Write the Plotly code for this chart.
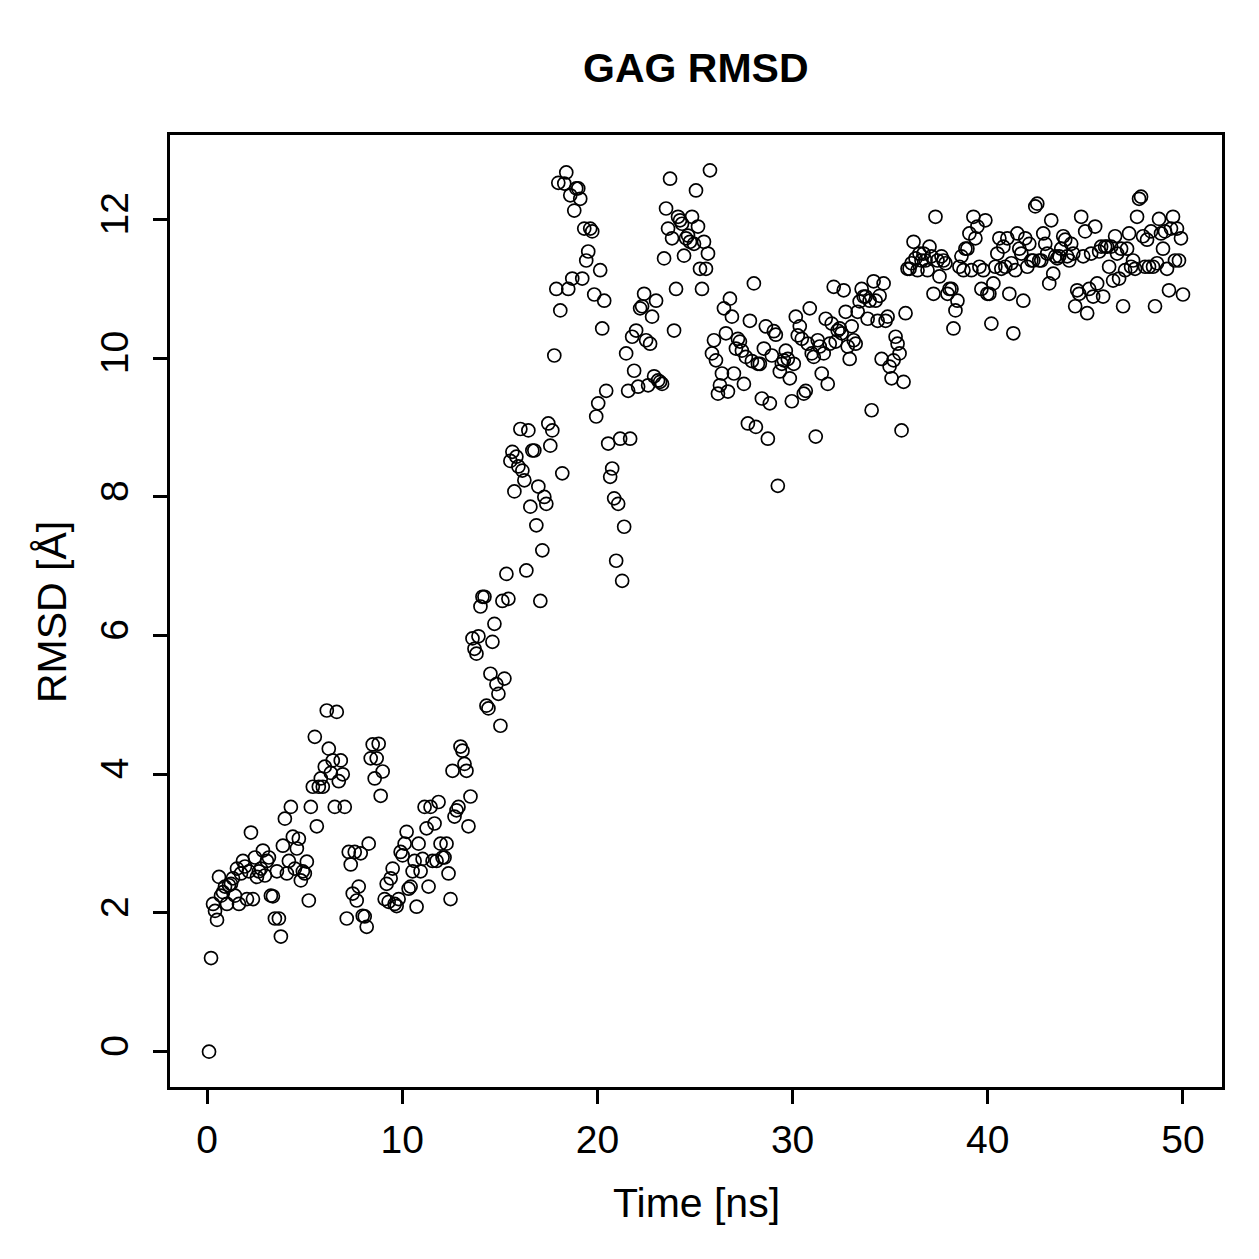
import numpy as np
import plotly.graph_objects as go

# RMSD values (Å), in time order
rmsd_0_10 = [0, 1.35, 2.13, 2.03, 1.9, 2.52, 2.25, 2.3, 2.38, 2.13, 2.4, 2.42, 2.5, 2.25, 2.64, 2.13, 2.57, 2.75, 2.67, 2.2,
             2.6, 3.16, 2.2, 2.8, 2.52, 2.6, 2.64, 2.9, 2.54, 2.75, 2.8, 2.25, 2.24, 1.92, 2.6, 1.92, 1.66, 2.97, 3.36, 2.57,
             2.75, 3.53, 3.1, 2.64, 2.93, 3.07, 2.47, 2.6, 2.57, 2.74, 2.18, 3.53, 3.82, 4.54, 3.25, 3.82, 3.94, 3.82, 4.11, 4.92,
             4.37, 4.02, 4.2, 3.53, 4.9, 3.9, 4.2, 4.0, 3.53, 1.92, 2.88, 2.7, 2.28, 2.88, 2.18, 2.38, 2.86, 1.96, 1.95, 1.8,
             3.0, 4.23, 4.43, 3.94, 4.23, 4.44, 3.69, 4.04, 2.2, 2.42, 2.16, 2.5, 2.64, 2.13]
rmsd_10_15 = [2.1, 2.2, 2.88, 2.83, 3.0, 3.17, 2.35, 2.38, 2.6, 2.75, 2.09, 3.0, 2.6, 2.78, 3.53, 3.22, 2.38, 3.53, 2.75, 3.29,
              2.75, 3.6, 3.0, 2.8, 2.8, 3.0, 2.57, 2.2, 4.05, 3.39, 3.48, 3.53, 4.4, 4.34, 4.15, 4.05, 3.25, 3.68, 5.96, 5.81,
              5.74, 5.99, 6.42, 6.56, 6.56, 4.99, 4.95, 5.45, 5.91, 6.17]
rmsd_15_20 = [5.3, 5.16, 4.7, 6.5, 5.38, 6.89, 6.53, 8.52, 8.65, 8.08, 8.58, 8.44, 8.98, 8.38, 8.24, 6.94, 8.96, 7.86, 8.67, 8.67,
              7.59, 8.15, 6.5, 7.23, 8.0, 7.9, 9.06, 8.74, 8.96, 10.04, 11.0, 12.53, 10.69, 8.34, 12.52, 12.68, 11.0, 12.35, 11.15, 12.13,
              12.45, 12.45, 12.3, 11.15, 11.87, 11.41, 11.54, 11.87, 11.83, 10.92, 9.16, 9.35]
rmsd_20_26 = [11.27, 10.43, 10.83, 9.53, 8.77, 8.29, 8.41, 7.98, 7.08, 7.9, 8.84, 6.79, 7.57, 10.07, 9.53, 8.84, 10.31, 9.82, 10.4, 9.59,
              10.72, 10.75, 10.93, 10.26, 9.61, 10.21, 10.6, 9.74, 10.83, 9.68, 9.66, 9.63, 11.44, 12.16, 11.87, 12.59, 11.73, 10.4, 11.0, 12.04,
              11.99, 11.94, 11.48, 11.73, 11.77, 11.68, 12.04, 11.65, 12.42, 11.9, 11.29, 11.0, 11.68, 11.29, 11.51, 12.71]
rmsd_26_36 = [10.07, 10.26, 9.97, 9.49, 9.61, 9.78, 10.72, 10.36, 9.52, 10.86, 10.6, 9.78, 10.14, 10.28, 10.24, 10.11, 9.63, 10.02, 9.06, 10.54,
              9.96, 11.08, 9.01, 9.92, 9.92, 9.42, 10.14, 10.46, 8.84, 9.35, 10.04, 10.39, 10.34, 8.16, 9.81, 9.92, 9.97, 10.11, 9.99, 9.71,
              9.38, 9.92, 10.6, 10.33, 10.46, 10.28, 9.49, 9.53, 10.21, 10.72, 10.07, 10.02, 8.87, 10.26, 10.17, 9.78, 10.07, 10.57, 9.63, 10.21,
              10.5, 11.03, 10.24, 10.4, 10.43, 10.36, 10.98, 10.67, 10.17, 9.99, 10.46, 10.26, 10.21, 10.67, 10.82, 11.0, 10.89, 10.89, 10.57, 10.83,
              9.25, 11.11, 10.83, 10.54, 10.9, 9.99, 11.08, 10.54, 10.6, 9.88, 9.71, 9.97, 10.31, 10.21, 10.07, 8.96, 9.66, 10.65]
rmsd_36_50 = [11.29, 11.29, 11.37, 11.68, 11.44, 11.27, 11.51, 11.41, 11.51, 11.41, 11.27, 11.61, 11.47, 10.93, 12.04, 11.41, 11.18, 11.47, 11.41, 11.37,
              10.93, 11.0, 11.0, 10.43, 10.69, 10.83, 11.32, 11.47, 11.27, 11.58, 11.58, 11.8, 11.27, 12.04, 11.73, 11.9, 11.32, 11.0, 11.27, 11.99,
              10.93, 10.93, 10.5, 11.08, 11.32, 11.51, 11.73, 11.29, 11.61, 11.32, 11.73, 10.93, 11.37, 10.36, 11.27, 11.8, 11.58, 11.51, 10.83, 11.73,
              11.32, 11.65, 11.41, 11.41, 12.19, 12.23, 11.41, 11.41, 11.8, 11.65, 11.51, 11.08, 11.99, 11.22, 11.47, 11.44, 11.47, 11.58, 11.76, 11.71,
              11.47, 11.41, 11.65, 11.51, 10.75, 10.98, 10.93, 12.04, 11.47, 11.83, 10.65, 11.0, 11.51, 10.89, 11.9, 11.08, 11.54, 11.61, 10.89, 11.61,
              11.61, 11.32, 11.61, 11.12, 11.76, 11.51, 11.15, 11.58, 10.75, 11.27, 11.58, 11.8, 11.32, 11.41, 11.29, 12.04, 12.3, 12.33, 11.76, 11.32,
              11.71, 11.32, 11.83, 11.32, 10.75, 11.37, 12.01, 11.8, 11.58, 11.83, 11.29, 10.98, 11.87, 12.04, 11.41, 11.87, 11.41, 11.73, 10.92]

rmsd = rmsd_0_10 + rmsd_10_15 + rmsd_15_20 + rmsd_20_26 + rmsd_26_36 + rmsd_36_50
t_start, t_end = 0.1, 50.0
time_ns = np.linspace(t_start, t_end, len(rmsd))  # evenly sampled trajectory frames

x_ticks = [0, 10, 20, 30, 40, 50]
y_ticks = [0, 2, 4, 6, 8, 10, 12]

FONT = "Liberation Sans, Arial, Helvetica, sans-serif"

fig = go.Figure(go.Scatter(
    x=time_ns, y=rmsd, mode="markers",
    marker=dict(symbol="circle-open", size=13, color="black", line=dict(width=1.7, color="black")),
    hoverinfo="x+y",
))

axis_common = dict(
    showline=True, mirror=True, linecolor="black", linewidth=2.6,
    ticks="outside", ticklen=14, tickwidth=2.6, tickcolor="black",
    showgrid=False, zeroline=False,
    tickfont=dict(family=FONT, size=39, color="black"),
)

fig.update_layout(
    width=1259, height=1259,
    margin=dict(l=170, r=37, t=135, b=172),
    paper_bgcolor="white", plot_bgcolor="white",
    showlegend=False,
    xaxis=dict(range=[-1.9, 52.0], tickvals=x_ticks, ticklabelstandoff=2, **axis_common),
    yaxis=dict(range=[-0.51, 13.22], tickvals=y_ticks, tickangle=-90, ticklabelstandoff=10, **axis_common),
    annotations=[
        dict(text="<b>GAG RMSD</b>", xref="paper", yref="paper", x=0.5, y=(1087 - 68) / 952,
             showarrow=False, xanchor="center", yanchor="middle",
             font=dict(family=FONT, size=41, color="black")),
        dict(text="Time [ns]", xref="paper", yref="paper", x=0.5, y=(1087 - 1203) / 952,
             showarrow=False, xanchor="center", yanchor="middle",
             font=dict(family=FONT, size=41, color="black")),
        dict(text="RMSD [Å]", xref="paper", yref="paper", x=(52 - 170) / 1052, y=(1087 - 612) / 952, textangle=-90,
             showarrow=False, xanchor="center", yanchor="middle",
             font=dict(family=FONT, size=41, color="black")),
    ],
)

fig.write_html("out.html")
